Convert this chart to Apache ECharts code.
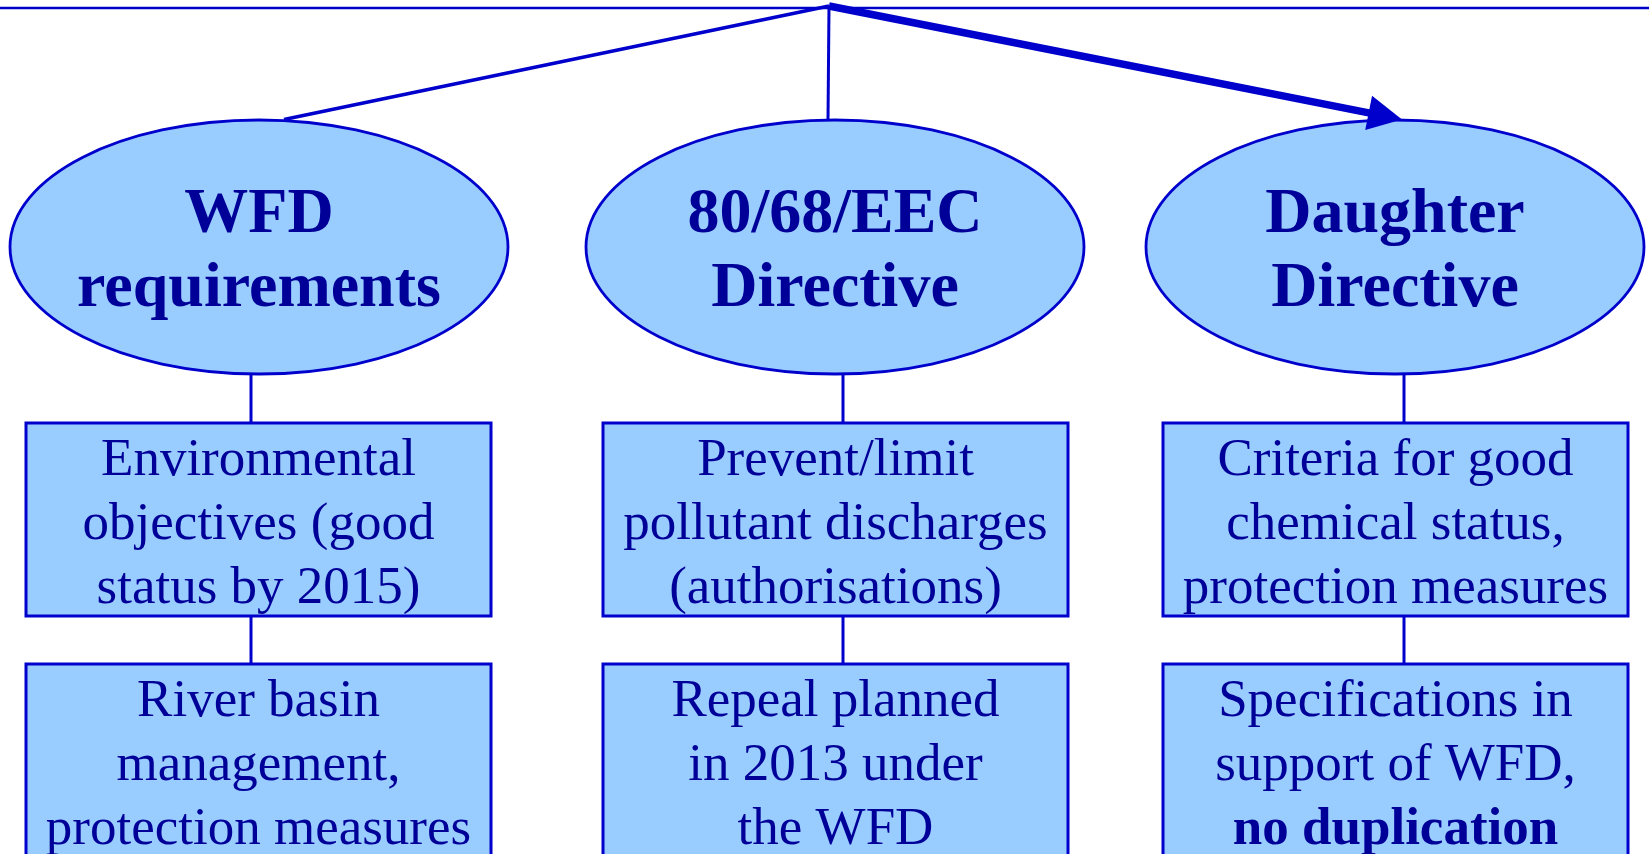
<!DOCTYPE html>
<html><head><meta charset="utf-8">
<script src="https://cdn.jsdelivr.net/npm/echarts@6/dist/echarts.min.js"></script>
<style>html,body{margin:0;padding:0;background:#fff;overflow:hidden}#c{width:1649px;height:854px}</style>
</head><body><div id="c"></div>
<script>
// ---- content (text of the diagram) ----
const headings = ['WFD\nrequirements', '80/68/EEC\nDirective', 'Daughter\nDirective'];
const objectives = ['Environmental\nobjectives (good\nstatus by 2015)', 'Prevent/limit\npollutant discharges\n(authorisations)', 'Criteria for good\nchemical status,\nprotection measures'];
const outcomes = ['River basin\nmanagement,\nprotection measures', 'Repeal planned\nin 2013 under\nthe WFD', 'Specifications in\nsupport of WFD,\n{b|no duplication}'];
const arrowTo = [false, false, true];

// ---- layout (diagram space, drawn through hidden value axes) ----
const layout = {
  width: 1649, height: 854,
  topLineY: 8,
  apex: [829, 6],
  ellipseCx: [259, 835, 1395],
  ellipseCy: 247, rx: 249, ry: 127,
  linkEndX: [284, 828, 1402], linkEndY: 119.5,
  linkWidth: [3.5, 3, 7.5],
  connectorX: [251, 843, 1404],
  boxLeft: [26, 603, 1163], boxWidth: 465,
  row1Top: 423, row1Bottom: 616, row2Top: 664, row2Bottom: 857,
  ellipseTextCy: 252.5, boxTextOffset: 6
};
const FILL = '#99CCFF', STROKE = '#0000CC', TEXT = '#000099';
const SERIF = "'Liberation Serif', 'Times New Roman', serif";

function renderColumn(params, api) {
  const i = params.dataIndex;
  const L = layout;
  const c = (x, y) => api.coord([x, y]);
  const children = [];
  // connectors
  const cx = L.connectorX[i];
  const a1 = c(cx, L.ellipseCy + L.ry - 1), b1 = c(cx, L.row1Top);
  const a2 = c(cx, L.row1Bottom), b2 = c(cx, L.row2Top);
  children.push({type: 'line', shape: {x1: a1[0], y1: a1[1], x2: b1[0], y2: b1[1]}, style: {stroke: STROKE, lineWidth: 3}});
  children.push({type: 'line', shape: {x1: a2[0], y1: a2[1], x2: b2[0], y2: b2[1]}, style: {stroke: STROKE, lineWidth: 3}});
  // ellipse
  const ec = c(L.ellipseCx[i], L.ellipseCy);
  const er = c(L.ellipseCx[i] + L.rx, L.ellipseCy + L.ry);
  children.push({type: 'ellipse', shape: {cx: ec[0], cy: ec[1], rx: er[0] - ec[0], ry: er[1] - ec[1]}, style: {fill: FILL, stroke: STROKE, lineWidth: 2.8}});
  const et = c(L.ellipseCx[i], L.ellipseTextCy);
  children.push({type: 'text', x: et[0], y: et[1], style: {text: headings[i], fill: TEXT, font: 'bold 64px ' + SERIF, align: 'center', verticalAlign: 'middle', lineHeight: 74}});
  // boxes
  const rows = [[L.row1Top, L.row1Bottom, objectives[i]], [L.row2Top, L.row2Bottom, outcomes[i]]];
  rows.forEach(([t, b, txt]) => {
    const p0 = c(L.boxLeft[i], t), p1 = c(L.boxLeft[i] + L.boxWidth, b);
    children.push({type: 'rect', shape: {x: p0[0], y: p0[1], width: p1[0] - p0[0], height: p1[1] - p0[1]}, style: {fill: FILL, stroke: STROKE, lineWidth: 3}});
    children.push({type: 'text', x: (p0[0] + p1[0]) / 2, y: (p0[1] + p1[1]) / 2 + L.boxTextOffset, style: {
      text: txt, fill: TEXT, font: '53px ' + SERIF, align: 'center', verticalAlign: 'middle', lineHeight: 64,
      rich: {b: {fontWeight: 'bold', fontSize: 53, fontFamily: SERIF, lineHeight: 64, fill: TEXT}}
    }});
  });
  // link from apex
  const ap = c(L.apex[0], L.apex[1]);
  const tip = c(L.linkEndX[i], L.linkEndY);
  if (arrowTo[i]) {
    const dx = tip[0] - ap[0], dy = tip[1] - ap[1];
    const len = Math.hypot(dx, dy), ux = dx / len, uy = dy / len;
    const hl = 34, hw = 17.5;
    const bx = tip[0] - ux * hl, by = tip[1] - uy * hl;
    children.push({type: 'line', shape: {x1: ap[0], y1: ap[1], x2: tip[0] - ux * (hl - 4), y2: tip[1] - uy * (hl - 4)}, style: {stroke: STROKE, lineWidth: L.linkWidth[i]}});
    children.push({type: 'polygon', shape: {points: [[tip[0], tip[1]], [bx - uy * hw, by + ux * hw], [bx + uy * hw, by - ux * hw]]}, style: {fill: STROKE}});
  } else {
    children.push({type: 'line', shape: {x1: ap[0], y1: ap[1], x2: tip[0], y2: tip[1]}, style: {stroke: STROKE, lineWidth: L.linkWidth[i]}});
  }
  return {type: 'group', children};
}

function renderTopLine(params, api) {
  const a = api.coord([0, layout.topLineY]), b = api.coord([layout.width, layout.topLineY]);
  return {type: 'line', shape: {x1: a[0], y1: a[1], x2: b[0], y2: b[1]}, style: {stroke: STROKE, lineWidth: 2.5}};
}

const chart = echarts.init(document.getElementById('c'), null, {renderer: 'canvas'});
chart.setOption({
  animation: false,
  backgroundColor: '#ffffff',
  grid: {left: 0, right: 0, top: 0, bottom: 0},
  xAxis: {type: 'value', min: 0, max: layout.width, show: false},
  yAxis: {type: 'value', min: 0, max: layout.height, inverse: true, show: false},
  series: [
    {type: 'custom', renderItem: renderTopLine, data: [[0, layout.topLineY]], silent: true},
    {type: 'custom', renderItem: renderColumn, data: headings.map((h, i) => [layout.ellipseCx[i], layout.ellipseCy]), silent: true}
  ]
});
</script></body></html>
